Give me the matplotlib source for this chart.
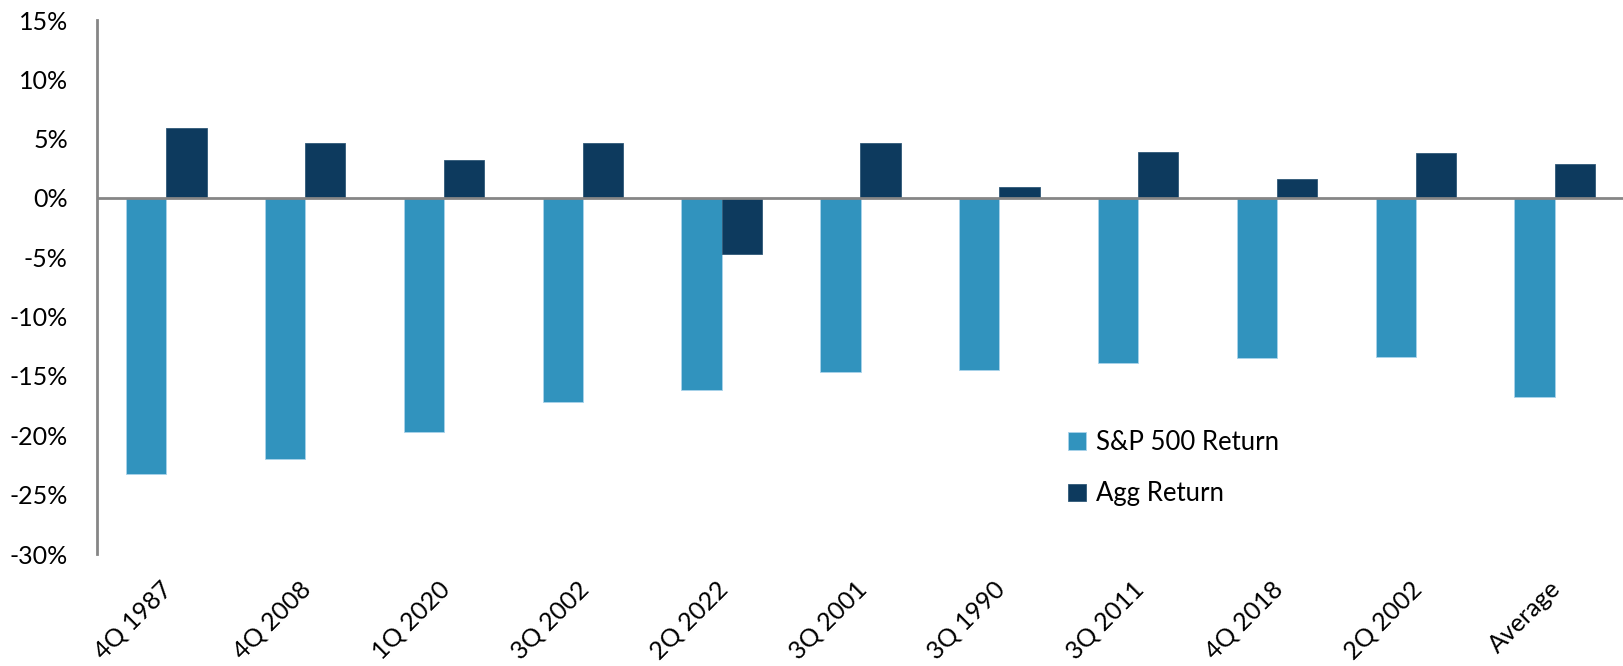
import numpy as np
import matplotlib
matplotlib.use("Agg")
import matplotlib.pyplot as plt
import matplotlib.transforms as mtransforms
from matplotlib.ticker import FuncFormatter

plt.rcParams['font.family'] = ['Lato', 'DejaVu Sans']

# worst quarters for the S&P 500 and the Agg return in the same quarter
quarters = ['4Q 1987', '4Q 2008', '1Q 2020', '3Q 2002', '2Q 2022', '3Q 2001',
            '3Q 1990', '3Q 2011', '4Q 2018', '2Q 2002', 'Average']
sp500 = [-23.3, -22.0, -19.7, -17.2, -16.2, -14.7, -14.5, -13.9, -13.5, -13.4, -16.8]
agg = [5.9, 4.6, 3.2, 4.6, -4.7, 4.6, 0.9, 3.9, 1.6, 3.8, 2.9]

sp_color = '#3193BE'
agg_color = '#0D3A5E'
grey = '#868686'

W, H = 1623, 666
fig = plt.figure(figsize=(W / 100, H / 100), dpi=100)
ax = fig.add_axes([97 / W, (H - 554) / H, 1527 / W, (554 - 20) / H])

x = np.arange(len(quarters))
w = 0.29
ax.bar(x - w / 2, sp500, w, color=sp_color, edgecolor='#A9D3EA', linewidth=0.6,
       label='S&P 500 Return')
ax.bar(x + w / 2, agg, w, color=agg_color, edgecolor='#2F5878', linewidth=0.6,
       label='Agg Return')

ax.axhline(0, color=grey, lw=2, zorder=3)

ax.set_xlim(-0.5, len(quarters) - 0.5)
ax.set_ylim(-30, 15)
ax.set_yticks(np.arange(-30, 16, 5))
ax.yaxis.set_major_formatter(FuncFormatter(lambda v, p: f'{v:.0f}%'))
ax.tick_params(axis='y', length=0, pad=21, labelsize=18)

ax.set_xticks(x)
ax.set_xticklabels(quarters, rotation=45, ha='right', rotation_mode='anchor')
ax.tick_params(axis='x', length=0, pad=18, labelsize=18)
# excel puts the end of the rotated label right at the category centre
shift = mtransforms.ScaledTranslation(-6 / 100, 2 / 100, fig.dpi_scale_trans)
for lab in ax.get_xticklabels():
    lab.set_transform(lab.get_transform() + shift)

for s in ['top', 'right', 'bottom']:
    ax.spines[s].set_visible(False)
ax.spines['left'].set_color(grey)
ax.spines['left'].set_linewidth(2)

fig.legend(loc='center left', bbox_to_anchor=(1068 / W, 1 - 468 / H),
           frameon=False, fontsize=18.5, handlelength=0.7, handleheight=0.7,
           handletextpad=0.4, labelspacing=1.05, borderpad=0, borderaxespad=0)

fig.savefig('out.png', dpi=100)
